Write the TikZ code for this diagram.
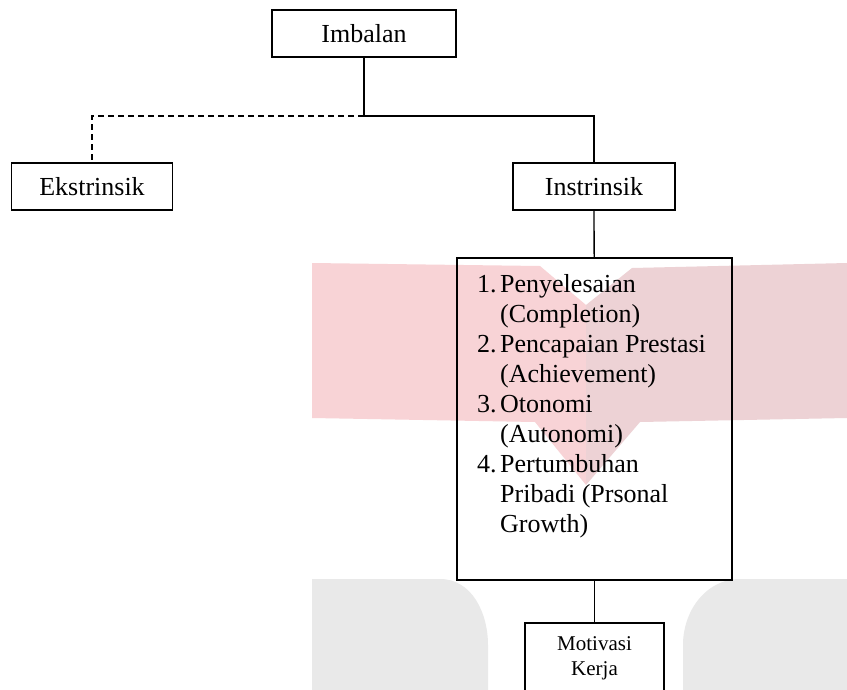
\documentclass[tikz,border=0pt]{standalone}
\usepackage{fontspec}
\setmainfont{Liberation Serif}
\usepackage{tikz}
\usetikzlibrary{positioning}

\definecolor{merahmuda}{RGB}{248,211,214}
\definecolor{merahabu}{RGB}{237,210,213}
\definecolor{abumuda}{RGB}{233,233,233}

\begin{document}
\begin{tikzpicture}
[
    x = 1pt, y = -1pt,
    kotak/.style = {draw, line width = 1.5pt, inner sep = 0pt, font = \fontsize{26}{30}\selectfont},
    garis/.style = {line width = 1.3pt},
    putus/.style = {line width = 1.3pt, dash pattern = on 6pt off 4pt}]

\useasboundingbox (0,0) rectangle (847,689);
\clip (0,0) rectangle (847,689);
\fill[white] (0,0) rectangle (847,689);

\fill[merahmuda] (312,263) -- (540,266) -- (586,305) -- (586,485) -- (535,422) -- (312,418) -- cycle;
\fill[merahabu] (586,305) -- (632,268) -- (847,263) -- (847,418) -- (640,422) -- (586,485) -- cycle;
\fill[abumuda] (312,700) -- (312,579) -- (440,579) to[out=0, in=90] (488,645) -- (488,700) -- cycle;
\fill[abumuda] (847,700) -- (847,579) -- (740,579) to[out=180, in=90] (683,645) -- (683,700) -- cycle;

\node[kotak, minimum width = 184pt, minimum height = 47pt] (imbalan) at (364,33.5) {Imbalan};
\node[kotak, minimum width = 161pt, minimum height = 47pt] (ekstrinsik) at (92,186.5) {Ekstrinsik};
\node[kotak, minimum width = 162pt, minimum height = 47pt] (instrinsik) at (594,186.5) {Instrinsik};
\node[kotak, minimum width = 275pt, minimum height = 322pt, anchor = north] (daftar) at (594.5,257) {};
\node[anchor = north west, inner sep = 0pt, font = \fontsize{26}{30}\selectfont] (isi) at (477,271)
    {\begin{tabular}{@{}l@{\hspace{3.5pt}}l@{}}
    1. & Penyelesaian\\
       & (Completion)\\
    2. & Pencapaian Prestasi\\
       & (Achievement)\\
    3. & Otonomi\\
       & (Autonomi)\\
    4. & Pertumbuhan\\
       & Pribadi (Prsonal\\
       & Growth)
    \end{tabular}};
\node[kotak, font = \fontsize{21}{25}\selectfont, align = center, minimum width = 139pt, minimum height = 71pt, anchor = north] (motivasi) at (594.5,622) {Motivasi\\Kerja};

\coordinate (cabang) at (364,116);
\draw[garis] (imbalan) -- (cabang) -| (instrinsik);
\draw[putus] (cabang) -| (ekstrinsik);
\draw[garis] (instrinsik) -- (daftar);
\draw[garis] (daftar) -- (motivasi);

\end{tikzpicture}
\end{document}
